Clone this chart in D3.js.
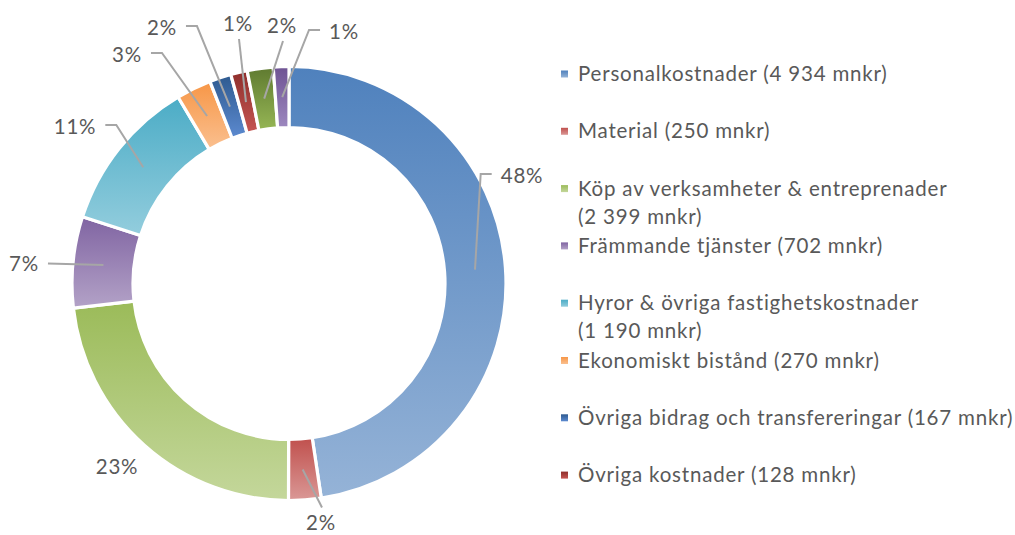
<!DOCTYPE html>
<html>
<head>
<meta charset="utf-8">
<script src="https://cdn.jsdelivr.net/npm/d3@7"></script>
<style>
  body { margin: 0; background: #fff; }
  svg { display: block; font-family: Lato, "Open Sans", sans-serif; }
</style>
</head>
<body>
<svg id="chart" width="1015" height="535"></svg>
<script>
// Cost categories (mnkr). Last two slices have no visible legend entry.
const categories = [
  "Personalkostnader",
  "Material",
  "Köp av verksamheter & entreprenader",
  "Främmande tjänster",
  "Hyror & övriga fastighetskostnader",
  "Ekonomiskt bistånd",
  "Övriga bidrag och transfereringar",
  "Övriga kostnader",
  "Avskrivningar",
  "Finansiella kostnader"
];
const values = [4934, 250, 2399, 702, 1190, 270, 167, 128, 200, 120];
const legendCount = 8;

// gradient colours: top -> bottom
const topColors = ["#4f81bd", "#c0504d", "#9bbb59", "#8064a2", "#4bacc6", "#f79646",
                   "#2e5a8f", "#8e2e2b", "#5f7a30", "#6e5393"];
const bottomColors = ["#95b3d7", "#da9896", "#c4d79b", "#b3a2c7", "#93cddd", "#fac090",
                      "#5c8ad0", "#c65653", "#96b655", "#9d88bf"];

// label layout: offset of label centre from donut centre, and leader style
const labelLayout = [
  [233, -107.5, "h"], [32, 239, "v"], [-172, 183.5, "n"], [-265, -20, "s"],
  [-214, -156.5, "h"], [-162, -228.5, "h"], [-127, -255.5, "h"], [-51, -259.5, "v"],
  [-7, -257.5, "v"], [55, -251.5, "h"]
];

const svg = d3.select("#chart");
const cx = 289, cy = 283.5;
const outerR = 217, innerR = 156;
const textColor = "#595959";
const fontSize = 20.5;
const letterSp = 0.8;

const total = d3.sum(values);
const pct = d3.format(".0%");
const num = d3.format(",d");
const fmtMnkr = (v) => num(v).replace(/,/g, " ") + " mnkr";

const data = categories.map((name, i) => ({ name, value: values[i], i }));

// gradients
const defs = svg.append("defs");
data.forEach((d) => {
  const g = defs.append("linearGradient")
    .attr("id", "grad-" + d.i)
    .attr("x1", 0).attr("y1", 0).attr("x2", 0).attr("y2", 1);
  g.append("stop").attr("offset", "0%").attr("stop-color", topColors[d.i]);
  g.append("stop").attr("offset", "100%").attr("stop-color", bottomColors[d.i]);
});

const pie = d3.pie().sort(null).value((d) => d.value).startAngle(0).endAngle(2 * Math.PI);
const arcs = pie(data);
const arc = d3.arc().innerRadius(innerR).outerRadius(outerR);

const g = svg.append("g").attr("transform", `translate(${cx},${cy})`);

g.selectAll("path.slice")
  .data(arcs)
  .join("path")
  .attr("class", "slice")
  .attr("d", arc)
  .attr("fill", (d) => `url(#grad-${d.data.i})`)
  .attr("stroke", "#fff")
  .attr("stroke-width", 3.2)
  .attr("stroke-linejoin", "round");

// percentage labels + leader lines
const labels = g.append("g");
arcs.forEach((d) => {
  const [lx, ly, mode] = labelLayout[d.data.i];
  const t = labels.append("text")
    .attr("x", lx)
    .attr("y", ly)
    .attr("dy", "0.35em")
    .attr("text-anchor", "middle")
    .attr("fill", textColor)
    .attr("font-size", fontSize)
    .attr("letter-spacing", letterSp)
    .text(pct(d.data.value / total));
  const w = t.node().getComputedTextLength();
  const [sx, sy] = arc.centroid(d);
  let pts = null;
  if (mode === "h") {
    const side = lx > sx ? -1 : 1;
    const edge = lx + side * w / 2;
    pts = [[sx, sy], [edge + side * 20, ly - 2], [edge + side * 9, ly - 2]];
  } else if (mode === "s") {
    const edge = lx + w / 2;
    pts = [[sx, sy], [edge + 9, ly]];
  } else if (mode === "v") {
    const dir = ly > sy ? -1 : 1;
    pts = [[sx, sy], [lx + 1, ly + dir * 15]];
  }
  if (pts) {
    labels.insert("path", "text")
      .attr("d", d3.line()(pts))
      .attr("fill", "none")
      .attr("stroke", "#a6a6a6")
      .attr("stroke-width", 2);
  }
});

// legend
const legendX = 561, legendY0 = 74, legendStep = 57.3, maxW = 455;
const legend = svg.append("g")
  .attr("fill", textColor)
  .attr("font-size", fontSize)
  .attr("letter-spacing", letterSp);
data.slice(0, legendCount).forEach((d, k) => {
  const y = legendY0 + k * legendStep;
  legend.append("rect")
    .attr("x", legendX).attr("y", y - 3.5)
    .attr("width", 7).attr("height", 7)
    .attr("fill", `url(#grad-${d.i})`);
  const full = `${d.name} (${fmtMnkr(d.value)})`;
  const t = legend.append("text")
    .attr("x", legendX + 17).attr("y", y)
    .attr("dy", "0.35em")
    .text(full);
  if (t.node().getComputedTextLength() > maxW) {
    t.text(d.name);
    legend.append("text")
      .attr("x", legendX + 17).attr("y", y + 28)
      .attr("dy", "0.35em")
      .text(`(${fmtMnkr(d.value)})`);
  }
});
</script>
</body>
</html>
